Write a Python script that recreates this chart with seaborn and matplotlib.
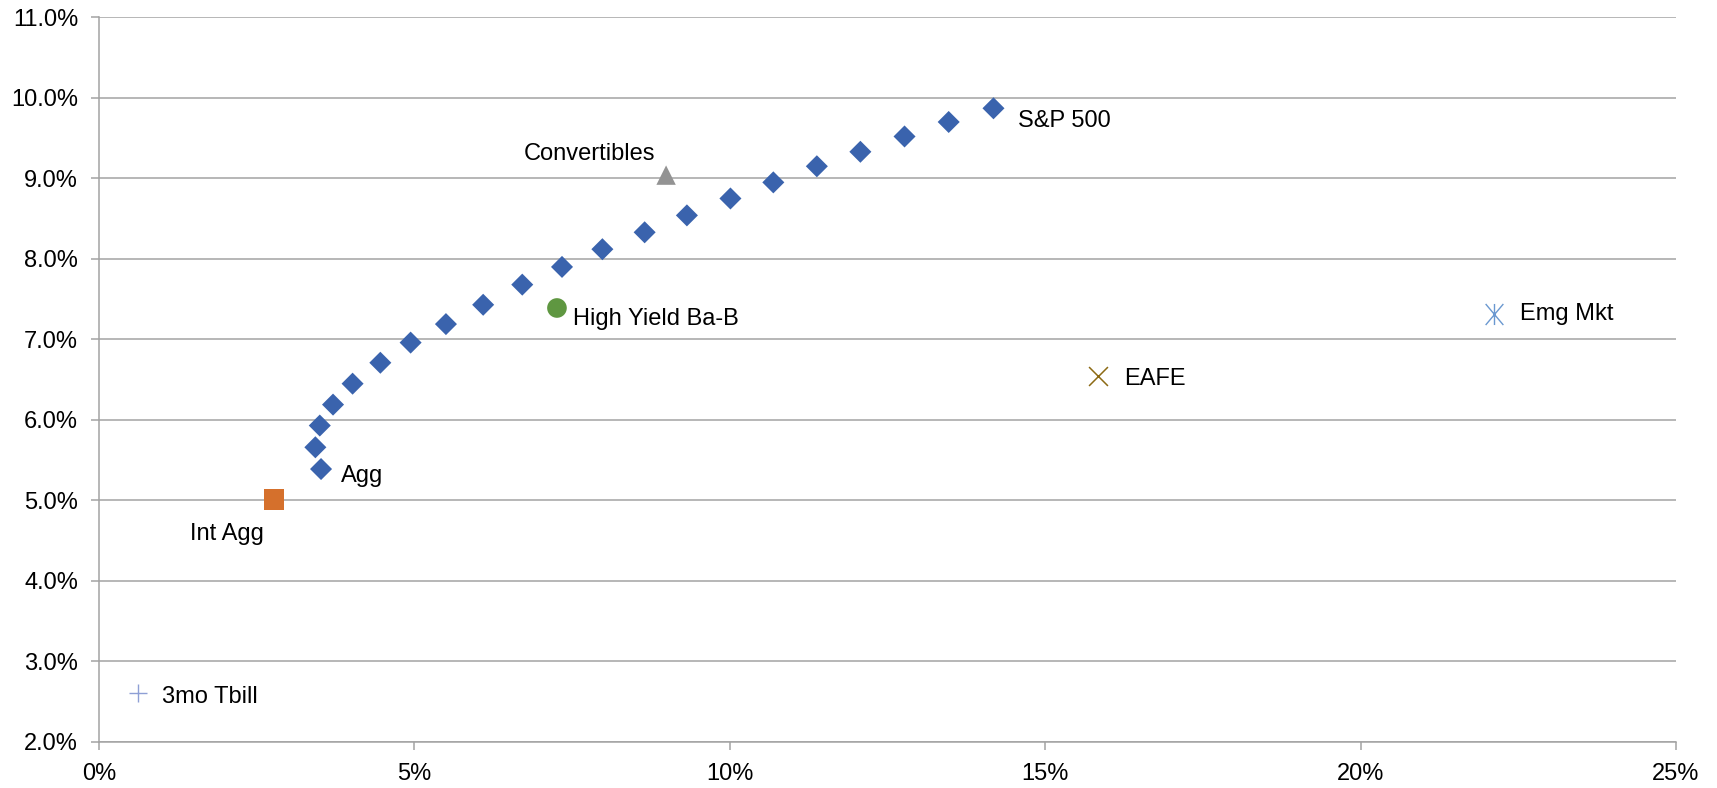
import matplotlib
matplotlib.use("Agg")
import matplotlib.pyplot as plt
from matplotlib.path import Path
from matplotlib.ticker import FuncFormatter, FixedLocator
import pandas as pd
import seaborn as sns

# Efficient frontier: annualised risk (std dev, %) against expected return (%)
frontier_risk = [3.52, 3.43, 3.50, 3.71, 4.02, 4.46, 4.94, 5.50, 6.09, 6.71, 7.34,
                 7.98, 8.65, 9.32, 10.01, 10.69, 11.38, 12.07, 12.77, 13.47, 14.18]
frontier_return = [5.39, 5.66, 5.93, 6.19, 6.45, 6.71, 6.96, 7.19, 7.43, 7.68, 7.90,
                   8.12, 8.33, 8.54, 8.75, 8.95, 9.15, 9.33, 9.52, 9.70, 9.87]
frontier_low_label = "Agg"
frontier_high_label = "S&P 500"

# Stand-alone asset classes
asset_names = ["Int Agg", "Convertibles", "High Yield Ba-B", "EAFE", "Emg Mkt", "3mo Tbill"]
asset_risk = [2.77, 8.99, 7.26, 15.83, 22.11, 0.62]
asset_return = [5.01, 9.04, 7.39, 6.55, 7.31, 2.61]

x_ticks = [0, 5, 10, 15, 20, 25]
y_ticks = [2, 3, 4, 5, 6, 7, 8, 9, 10, 11]

GRID = "#A3A3A3"
FONT_SIZE = 17

sns.set_theme(style="white")
plt.rcParams["font.family"] = ["Liberation Sans", "DejaVu Sans"]

fig = plt.figure(figsize=(17.17, 7.88), dpi=100)
ax = fig.add_axes([99 / 1717, 46 / 788, (1676 - 99) / 1717, (742 - 17.3) / 788])

# Excel-style asterisk: an X crossed by a vertical stroke
asterisk = Path(
    [(-0.42, -0.5), (0.42, 0.5), (-0.42, 0.5), (0.42, -0.5), (0.0, -0.5), (0.0, 0.5)],
    [Path.MOVETO, Path.LINETO, Path.MOVETO, Path.LINETO, Path.MOVETO, Path.LINETO],
)

frontier = pd.DataFrame({"risk": frontier_risk, "ret": frontier_return})
sns.scatterplot(data=frontier, x="risk", y="ret", marker="D", s=126,
                color="#3A63AD", edgecolor="none", linewidth=0, ax=ax, zorder=3)

# marker, size, colour, line width, label offset (points), horizontal alignment
asset_style = {
    "Int Agg":         ("s", 215, "#D5702C", 0, (-7, -29), "right"),
    "Convertibles":    ("^", 195, "#939393", 0, (-8, 11), "right"),
    "High Yield Ba-B": ("o", 200, "#5F9741", 0, (11.5, -12.5), "left"),
    "EAFE":            ("x", 185, "#8C6A14", 1.1, (19, -6.7), "left"),
    "Emg Mkt":         (asterisk, 230, "#6A98D0", 1.0, (19, -4), "left"),
    "3mo Tbill":       ("+", 160, "#8E9FD5", 1.0, (17, -7), "left"),
}

for name, rx, ry in zip(asset_names, asset_risk, asset_return):
    marker, size, colour, lw, offset, ha = asset_style[name]
    point = pd.DataFrame({"risk": [rx], "ret": [ry]})
    if marker in ("s", "^", "o"):
        sns.scatterplot(data=point, x="risk", y="ret", marker=marker, s=size,
                        color=colour, edgecolor="none", linewidth=0, ax=ax, zorder=4)
    else:
        sns.scatterplot(data=point, x="risk", y="ret", marker=marker, s=size,
                        color=colour, edgecolor=colour, linewidth=lw, ax=ax, zorder=4)
    ax.annotate(name, xy=(rx, ry), xytext=offset, textcoords="offset points",
                ha=ha, va="baseline", fontsize=FONT_SIZE, color="black")

# End-point labels of the frontier
ax.annotate(frontier_low_label, xy=(frontier_risk[0], frontier_return[0]), xytext=(14, -9.4),
            textcoords="offset points", ha="left", va="baseline",
            fontsize=FONT_SIZE, color="black")
ax.annotate(frontier_high_label, xy=(frontier_risk[-1], frontier_return[-1]), xytext=(18, -13.5),
            textcoords="offset points", ha="left", va="baseline",
            fontsize=FONT_SIZE, color="black")

ax.set_xlim(x_ticks[0], x_ticks[-1])
ax.set_ylim(y_ticks[0], y_ticks[-1])
ax.xaxis.set_major_locator(FixedLocator(x_ticks))
ax.yaxis.set_major_locator(FixedLocator(y_ticks))
ax.xaxis.set_major_formatter(FuncFormatter(lambda v, _: f"{v:.0f}%"))
ax.yaxis.set_major_formatter(FuncFormatter(lambda v, _: f"{v:.1f}%"))
ax.set_xlabel("")
ax.set_ylabel("")

ax.set_axisbelow(True)
ax.yaxis.grid(True, color=GRID, linewidth=1.1)
ax.xaxis.grid(False)

for side in ("top", "right"):
    ax.spines[side].set_visible(False)
for side in ("left", "bottom"):
    ax.spines[side].set_color(GRID)
    ax.spines[side].set_linewidth(1.1)

ax.tick_params(axis="both", which="major", direction="out", bottom=True, left=True,
               length=6, width=1.1, color=GRID, labelsize=FONT_SIZE,
               labelcolor="black", pad=9)

fig.savefig("out.png", dpi=100)
